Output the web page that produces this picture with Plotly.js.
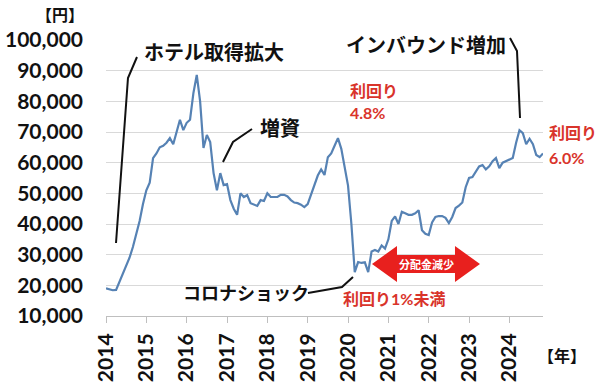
<!DOCTYPE html>
<html>
<head>
<meta charset="utf-8">
<script src="https://cdn.plot.ly/plotly-3.0.1.min.js"></script>
<style>html,body{margin:0;padding:0;background:#fff;}#chart{width:600px;height:385px;}</style>
</head>
<body>
<div id="chart"></div>
<script>
// Monthly unit price (yen), starting January 2014
const startYear = 2014;
const price = [
  19000, 18800, 18400, 18500, 21000, 23500, 26000, 29000, 32500, 36500, 41000, 46500,
  51000, 53500, 61500, 63000, 65000, 65500, 66500, 68000, 66000, 70000, 74000, 70600,
  73000, 74000, 82700, 88600, 80000, 64800, 69000, 66700, 56600, 51000, 56600, 52700,
  53000, 47800, 45000, 43000, 50000, 48800, 49400, 46800, 46300, 45900, 47800, 47500,
  50000, 48800, 48800, 48800, 49500, 49500, 49000, 47800, 47000, 46800, 46300, 45500,
  46500, 49500, 53000, 55800, 57800, 56000, 61800, 63000, 65500, 68000, 64500, 58500,
  52500, 40000, 24300, 27600, 27300, 27500, 24300, 31000, 31500, 31000, 33000, 32000,
  35000, 41000, 42500, 40000, 44000, 43500, 43000, 43000, 43500, 44500, 38000, 36800,
  36400, 40500, 42300, 42600, 42600, 42000, 40300, 42300, 45200, 46000, 47000, 52000,
  55000, 55300, 57000, 58800, 59200, 57800, 58800, 60500, 61500, 58200, 60000, 60500,
  60800, 61500, 66500, 70600, 69600, 66000, 67800, 66000, 62500, 61800, 63000
];
const yearTicks = [2014, 2015, 2016, 2017, 2018, 2019, 2020, 2021, 2022, 2023, 2024];
const yTicks = [10000, 20000, 30000, 40000, 50000, 60000, 70000, 80000, 90000, 100000];

const x = price.map((_, i) => startYear + i / 12);

// pixel -> paper helpers for decorations
const L = 106, R = 57, T = 40, B = 69, W = 600, H = 385;
const pw = W - L - R, ph = H - T - B;
const px = X => (X - L) / pw;
const py = Y => (H - B - Y) / ph;
const path = pts => pts.map((p, i) => (i ? 'L' : 'M') + px(p[0]).toFixed(4) + ',' + py(p[1]).toFixed(4)).join(' ');

const JP = '"Noto Sans CJK JP", sans-serif';
const NUMJP = 'Lato, "Noto Sans CJK JP", sans-serif';
const RED = '#d9342b';

function txt(t, X, Y, size, color, xanchor, family) {
  return {text: t, xref: 'paper', yref: 'paper', x: px(X), y: py(Y), showarrow: false,
    xanchor: xanchor || 'left', yanchor: 'middle',
    font: {family: family || JP, size: size, color: color || '#111', weight: 'bold'}};
}

const annotations = [
  txt('【円】', 60, 14, 16, '#111', 'center'),
  txt('【年】', 562, 355, 16, '#111', 'center'),
  txt('ホテル取得拡大', 142, 52, 20),
  txt('増資', 258, 128, 20),
  txt('インバウンド増加', 344, 45, 20),
  txt('コロナショック', 181, 292, 18),
  txt('利回り', 348, 90, 16, RED, 'left', NUMJP),
  txt('4.8%', 348, 113, 16, RED, 'left', NUMJP),
  txt('利回り', 547, 132, 16, RED, 'left', NUMJP),
  txt('6.0%', 547, 157, 16, RED, 'left', NUMJP),
  txt('利回り1%未満', 394, 298, 16, RED, 'center', NUMJP),
  txt('分配金減少', 426, 264, 11, '#ffffff', 'center')
];

const shapes = [
  {type: 'path', xref: 'paper', yref: 'paper', path: path([[116, 243], [128, 78], [137, 57]]), line: {color: '#111', width: 2}},
  {type: 'path', xref: 'paper', yref: 'paper', path: path([[223, 162], [233, 142], [252, 129]]), line: {color: '#111', width: 2}},
  {type: 'path', xref: 'paper', yref: 'paper', path: path([[510, 38], [517, 51], [520, 118]]), line: {color: '#111', width: 2}},
  {type: 'path', xref: 'paper', yref: 'paper', path: path([[308, 293], [342, 287], [353, 277]]), line: {color: '#111', width: 2}},
  {type: 'path', xref: 'paper', yref: 'paper', fillcolor: '#e8201e', line: {width: 0},
    path: path([[372, 264], [397, 246], [397, 255], [455, 255], [455, 246], [480, 264], [455, 282], [455, 273], [397, 273], [397, 282]]) + ' Z'}
];

const trace = {
  x: x, y: price, type: 'scatter', mode: 'lines',
  line: {color: '#5682b4', width: 2.2}, hoverinfo: 'skip'
};

const layout = {
  width: W, height: H,
  margin: {l: L, r: R, t: T, b: B, pad: 0},
  paper_bgcolor: '#fff', plot_bgcolor: '#fff',
  showlegend: false,
  xaxis: {
    range: [startYear, startYear + (price.length - 1) / 12],
    tickmode: 'array', tickvals: yearTicks, ticktext: yearTicks.map(String),
    tickangle: -90, ticks: 'outside', ticklen: 6, tickcolor: '#bfbfbf', tickwidth: 1,
    showline: true, linecolor: '#bfbfbf', linewidth: 1,
    showgrid: false, zeroline: false, ticklabelstandoff: 2,
    tickfont: {family: 'Lato, sans-serif', size: 21, color: '#111', weight: 'bold'}
  },
  yaxis: {
    range: [10000, 100000], tickmode: 'array', tickvals: yTicks,
    ticktext: yTicks.map(v => v.toLocaleString('en-US')),
    showgrid: true, gridcolor: '#d9d9d9', gridwidth: 1, zeroline: false,
    ticks: '', showline: false, ticklabelstandoff: 22,
    tickfont: {family: 'Lato, sans-serif', size: 21, color: '#111', weight: 'bold'}
  },
  annotations: annotations,
  shapes: shapes
};

Plotly.newPlot('chart', [trace], layout, {staticPlot: true, displayModeBar: false});
</script>
</body>
</html>
